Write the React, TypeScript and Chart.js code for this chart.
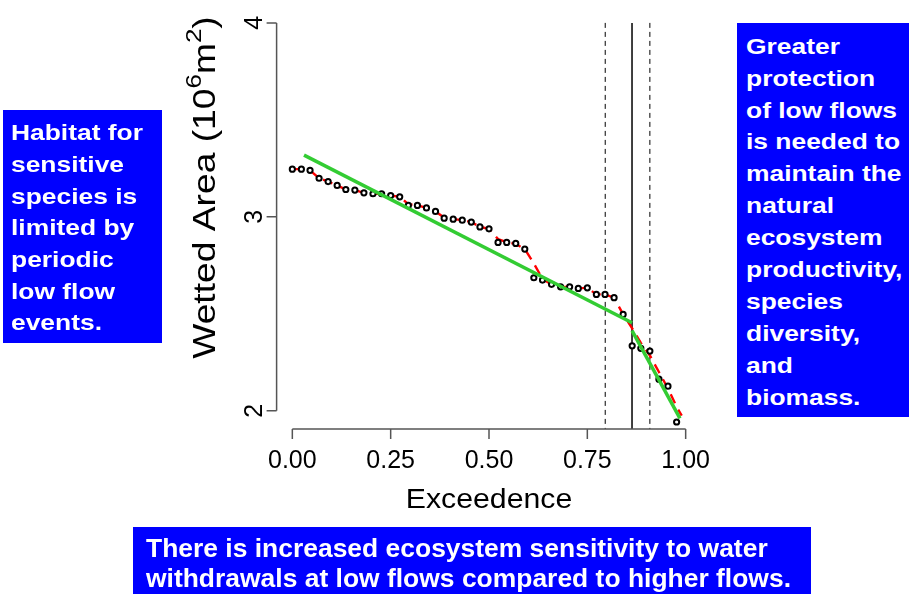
import React, { useEffect, useRef } from "react";
import { Chart, registerables } from "chart.js";

Chart.register(...registerables);

// ---------- data ----------
const exceedence = [
  0, 0.023, 0.045, 0.068, 0.091, 0.114, 0.136, 0.159, 0.182, 0.205, 0.227,
  0.25, 0.273, 0.295, 0.318, 0.341, 0.364, 0.386, 0.409, 0.432, 0.455, 0.477,
  0.5, 0.523, 0.545, 0.568, 0.591, 0.614, 0.636, 0.659, 0.682, 0.705, 0.727,
  0.75, 0.773, 0.795, 0.818, 0.841, 0.864, 0.886, 0.909, 0.932, 0.955, 0.977,
];
const wettedArea = [
  3.246, 3.246, 3.24, 3.199, 3.182, 3.162, 3.141, 3.138, 3.124, 3.119, 3.119,
  3.11, 3.103, 3.059, 3.059, 3.046, 3.028, 2.993, 2.988, 2.983, 2.973, 2.948,
  2.938, 2.868, 2.868, 2.863, 2.834, 2.686, 2.674, 2.652, 2.639, 2.639, 2.631,
  2.634, 2.6, 2.6, 2.583, 2.497, 2.335, 2.322, 2.308, 2.163, 2.127, 1.942,
];
const smoothX = [
  0, 0.023, 0.045, 0.068, 0.091, 0.114, 0.136, 0.159, 0.182, 0.205, 0.227,
  0.25, 0.273, 0.295, 0.318, 0.341, 0.364, 0.386, 0.409, 0.432, 0.455, 0.477,
  0.5, 0.523, 0.545, 0.568, 0.591, 0.614, 0.636, 0.659, 0.682, 0.705, 0.727,
  0.75, 0.773, 0.795, 0.818, 0.841, 0.864, 0.886, 0.909, 0.932, 0.955, 0.977,
  0.99,
];
const smoothY = [
  3.246, 3.246, 3.24, 3.199, 3.182, 3.162, 3.141, 3.138, 3.124, 3.119, 3.119,
  3.11, 3.103, 3.065, 3.059, 3.046, 3.028, 2.996, 2.988, 2.983, 2.973, 2.948,
  2.938, 2.885, 2.87, 2.86, 2.834, 2.76, 2.68, 2.652, 2.639, 2.639, 2.631,
  2.634, 2.6, 2.6, 2.583, 2.497, 2.425, 2.35, 2.285, 2.2, 2.115, 2.02, 1.975,
];
const fitLowX = [0.0297, 0.8636];
const fitLowY = [3.318, 2.454];
const fitHighX = [0.8636, 0.9855];
const fitHighY = [2.413, 1.961];
const ciLowX = 0.7955;
const breakX = 0.8636;
const ciHighX = 0.909;
const vlineTop = 4;

const xTicks = [0, 0.25, 0.5, 0.75, 1];
const xTickLabels = ["0.00", "0.25", "0.50", "0.75", "1.00"];
const yTicks = [2, 3, 4];
const yTickLabels = ["2", "3", "4"];

const X_MIN = -0.04;
const X_MAX = 1.04;
const Y_MIN = 1.906;
const Y_MAX = 4.082;

const FONT = '"Liberation Sans", Arial, Helvetica, sans-serif';

const pts = (xs: number[], ys: number[]) => xs.map((x, i) => ({ x, y: ys[i] }));

const rAxes = {
  id: "rAxes",
  afterDraw(chart: any) {
    const { ctx, chartArea } = chart;
    const x = chart.scales.x;
    const y = chart.scales.y;
    const axisY = chartArea.bottom;
    const axisX = chartArea.left;
    ctx.save();
    ctx.strokeStyle = "#555";
    ctx.lineWidth = 1.5;
    ctx.beginPath();
    const x0 = x.getPixelForValue(xTicks[0]);
    const x1 = x.getPixelForValue(xTicks[xTicks.length - 1]);
    ctx.moveTo(x0, axisY);
    ctx.lineTo(x1, axisY);
    xTicks.forEach((t) => {
      const px = x.getPixelForValue(t);
      ctx.moveTo(px, axisY);
      ctx.lineTo(px, axisY + 10);
    });
    const y0 = y.getPixelForValue(yTicks[0]);
    const y1 = y.getPixelForValue(yTicks[yTicks.length - 1]);
    ctx.moveTo(axisX, y0);
    ctx.lineTo(axisX, y1);
    yTicks.forEach((t) => {
      const py = y.getPixelForValue(t);
      ctx.moveTo(axisX, py);
      ctx.lineTo(axisX - 10, py);
    });
    ctx.stroke();

    ctx.fillStyle = "#000";
    ctx.textAlign = "center";
    ctx.textBaseline = "alphabetic";
    ctx.font = `25px ${FONT}`;
    xTicks.forEach((t, i) => {
      ctx.fillText(xTickLabels[i], x.getPixelForValue(t), axisY + 39.3);
    });
    yTicks.forEach((t, i) => {
      ctx.save();
      ctx.translate(axisX - 14.6, y.getPixelForValue(t));
      ctx.rotate(-Math.PI / 2);
      ctx.fillText(yTickLabels[i], 0, 0);
      ctx.restore();
    });

    // x title
    ctx.save();
    ctx.translate((x0 + x1) / 2, axisY + 79.3);
    ctx.scale(1.08, 1);
    ctx.font = `28px ${FONT}`;
    ctx.fillText("Exceedence", 0, 0);
    ctx.restore();

    // y title with superscripts
    const F = 31;
    const parts = [
      { t: "Wetted Area (10", sup: false },
      { t: "6", sup: true },
      { t: "m", sup: false },
      { t: "2", sup: true },
      { t: ")", sup: false },
    ];
    ctx.save();
    ctx.translate(215, 187.5);
    ctx.rotate(-Math.PI / 2);
    ctx.scale(1.2, 1);
    ctx.textAlign = "left";
    let total = 0;
    parts.forEach((p) => {
      ctx.font = `${p.sup ? F * 0.7 : F}px ${FONT}`;
      total += ctx.measureText(p.t).width;
    });
    let cx = -total / 2;
    parts.forEach((p) => {
      ctx.font = `${p.sup ? F * 0.7 : F}px ${FONT}`;
      ctx.fillText(p.t, cx, p.sup ? -F * 0.45 : 0);
      cx += ctx.measureText(p.t).width;
    });
    ctx.restore();
    ctx.restore();
  },
};

const boxBase: React.CSSProperties = {
  position: "absolute",
  background: "#0000ff",
  color: "#fff",
  fontFamily: FONT,
  fontWeight: "bold",
  whiteSpace: "nowrap",
  boxSizing: "border-box",
  overflow: "hidden",
};

const leftLines = ["Habitat for", "sensitive", "species is", "limited by", "periodic", "low flow", "events."];
const rightLines = [
  "Greater", "protection", "of low flows", "is needed to", "maintain the", "natural",
  "ecosystem", "productivity,", "species", "diversity,", "and", "biomass.",
];
const bottomLines = [
  "There is increased ecosystem sensitivity to water",
  "withdrawals at low flows compared to higher flows.",
];

function Lines({ lines, scale }: { lines: string[]; scale: number }) {
  return (
    <div style={{ transform: `scaleX(${scale})`, transformOrigin: "left top" }}>
      {lines.map((l, i) => (
        <div key={i}>{l}</div>
      ))}
    </div>
  );
}

export default function App() {
  const ref = useRef<HTMLCanvasElement | null>(null);
  useEffect(() => {
    if (!ref.current) return;
    const vline = (vx: number, dash: number[], w: number) => ({
      data: [
        { x: vx, y: vlineTop },
        { x: vx, y: Y_MIN },
      ],
      showLine: true,
      borderColor: "#000",
      borderWidth: w,
      borderDash: dash,
      pointRadius: 0,
    });
    const chart = new Chart(ref.current, {
      type: "scatter",
      data: {
        datasets: [
          {
            data: pts(fitLowX, fitLowY),
            showLine: true,
            borderColor: "#33cc33",
            borderWidth: 3.5,
            pointRadius: 0,
          },
          {
            data: pts(fitHighX, fitHighY),
            showLine: true,
            borderColor: "#33cc33",
            borderWidth: 3.5,
            pointRadius: 0,
          },
          {
            data: pts(exceedence, wettedArea),
            showLine: false,
            pointRadius: 2.6,
            pointBorderWidth: 2,
            pointBorderColor: "#000",
            pointBackgroundColor: "#fff",
            borderColor: "#000",
            backgroundColor: "#fff",
          },
          {
            data: pts(smoothX, smoothY),
            showLine: true,
            borderColor: "#ff0000",
            borderWidth: 2.4,
            borderDash: [10, 7],
            pointRadius: 0,
          },
          vline(ciLowX, [5, 4], 1),
          vline(breakX, [], 1.5),
          vline(ciHighX, [5, 4], 1),
        ] as any,
      },
      options: {
        animation: false,
        responsive: false,
        events: [],
        layout: { padding: { left: 276.6, right: 207.6, top: 7, bottom: 165 } },
        plugins: { legend: { display: false }, tooltip: { enabled: false } },
        scales: {
          x: { type: "linear", min: X_MIN, max: X_MAX, display: false },
          y: { type: "linear", min: Y_MIN, max: Y_MAX, display: false },
        },
      },
      plugins: [rAxes],
    });
    return () => chart.destroy();
  }, []);

  return (
    <div style={{ position: "absolute", left: 0, top: 0, width: 909, height: 594, overflow: "hidden", background: "#fff" }}>
      <canvas ref={ref} width={909} height={594} style={{ display: "block", width: 909, height: 594 }} />
      <div style={{ ...boxBase, left: 3.3, top: 110, width: 159, height: 233.3, fontSize: 22, lineHeight: "31.67px", paddingTop: 7.2, paddingLeft: 8 }}>
        <Lines lines={leftLines} scale={1.2} />
      </div>
      <div style={{ ...boxBase, left: 736.7, top: 23.3, width: 172.3, height: 393.4, fontSize: 22, lineHeight: "31.9px", paddingTop: 7.4, paddingLeft: 9 }}>
        <Lines lines={rightLines} scale={1.2} />
      </div>
      <div style={{ ...boxBase, left: 133.3, top: 526.7, width: 678, height: 67.3, fontSize: 26, lineHeight: "30px", paddingTop: 6, paddingLeft: 13 }}>
        <Lines lines={bottomLines} scale={1.017} />
      </div>
    </div>
  );
}
